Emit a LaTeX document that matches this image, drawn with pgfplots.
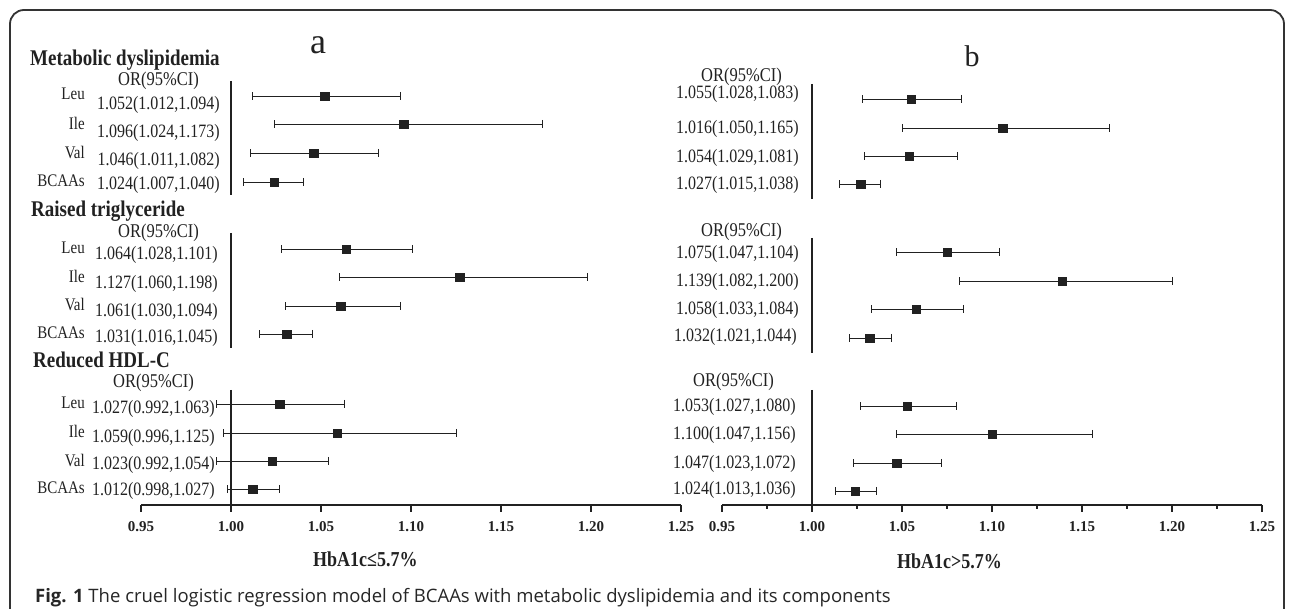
\documentclass[border=0pt]{standalone}
\usepackage{fontspec}
\setmainfont{Liberation Serif}
\newfontfamily\capfont{Open Sans}
\usepackage{pgfplots}
\pgfplotsset{compat=1.18}
\usepackage{pgfplotstable}

% left panel: HbA1c <= 5.7%   (y = vertical position of the row)
\pgfplotstableread{
or    lo    hi    y
1.052 1.012 1.094 513
1.096 1.024 1.173 485
1.046 1.011 1.082 456
1.024 1.007 1.040 427
1.064 1.028 1.101 360
1.127 1.060 1.198 332
1.061 1.030 1.094 303
1.031 1.016 1.045 275
1.027 0.992 1.063 205
1.059 0.996 1.125 176
1.023 0.992 1.054 148
1.012 0.998 1.027 120
}\leftdata
% right panel: HbA1c > 5.7%
\pgfplotstableread{
or    lo    hi    y
1.055 1.028 1.083 510
1.106 1.050 1.165 481
1.054 1.029 1.081 453
1.027 1.015 1.038 425
1.075 1.047 1.104 357
1.139 1.082 1.200 328
1.058 1.033 1.084 300
1.032 1.021 1.044 271
1.053 1.027 1.080 203
1.100 1.047 1.156 175
1.047 1.023 1.072 146
1.024 1.013 1.036 118
}\rightdata

\colorlet{ink}{black!87}
\pgfplotsset{forest/.style={
  scale only axis, width=540pt, height=465pt,
  xmin=0.95, xmax=1.25, ymin=104, ymax=569,
  axis x line=bottom, axis y line=none,
  x axis line style={-, line width=1.3pt, color=ink},
  xtick={0.95,1.00,1.05,1.10,1.15,1.20,1.25},
  xticklabels={0.95,1.00,1.05,1.10,1.15,1.20,1.25},
  tick align=outside, major tick length=7pt, minor tick length=4pt,
  every tick/.style={line width=1.2pt, ink},
  xticklabel style={font=\bfseries\fontsize{15}{17}\selectfont, text=ink, yshift=-6pt},
  /pgf/number format/assume math mode=true,
  clip=false, anchor=south west,
}}
\pgfplotsset{ciplot/.style={only marks, mark=square*, mark size=4.2pt, color=ink,
  error bars/.cd, x dir=both, x explicit, error mark=|,
  error bar style={line width=0.9pt, color=ink},
  error mark options={mark size=4pt, line width=0.9pt, color=ink}}}
\pgfplotsset{refline/.style={line width=1.3pt, ink, mark=none}}

\newcommand\st[1]{\scalebox{1}[1.18]{#1}}
\newcommand\numf{\fontsize{16}{18}\selectfont}
\newcommand\labf{\fontsize{15}{17}\selectfont}
\newcommand\orf{\fontsize{16.5}{18}\selectfont}
\newcommand\ttlf{\bfseries\fontsize{19}{22}\selectfont}

\begin{document}
\begin{tikzpicture}[x=1pt,y=1pt]
\path[use as bounding box] (0,0) rectangle (1292,609);

\begin{axis}[forest, at={(141pt,104pt)}]
\addplot[ciplot] table[x=or, y=y,
  x error plus expr=\thisrow{hi}-\thisrow{or},
  x error minus expr=\thisrow{or}-\thisrow{lo}] {\leftdata};
\addplot[refline] coordinates {(1,528) (1,414)};
\addplot[refline] coordinates {(1,376) (1,261)};
\addplot[refline] coordinates {(1,219) (1,104)};
\end{axis}

\begin{axis}[forest, at={(722pt,104pt)},
  minor xtick={0.975,1.025,1.075,1.125,1.175,1.225}]
\addplot[ciplot] table[x=or, y=y,
  x error plus expr=\thisrow{hi}-\thisrow{or},
  x error minus expr=\thisrow{or}-\thisrow{lo}] {\rightdata};
\addplot[refline] coordinates {(1,525) (1,410)};
\addplot[refline] coordinates {(1,371) (1,256)};
\addplot[refline] coordinates {(1,219) (1,104)};
\end{axis}

\begin{scope}[yshift=609pt, y=-1pt, x=1pt, every node/.style={inner sep=0pt, text=ink}]
% frame
\draw[line width=1.8pt, black!80, rounded corners=14pt] (10,612) -- (10,10) -- (1284,10) -- (1284,612);
% panel letters
\node[anchor=base, font=\fontsize{36}{40}\selectfont] at (318,54) {a};
\node[anchor=base, font=\fontsize{30}{34}\selectfont] at (972,67) {b};
% section titles
\node[anchor=base west, font=\ttlf] at (30,66) {\st{Metabolic dyslipidemia}};
\node[anchor=base west, font=\ttlf] at (31,217) {\st{Raised triglyceride}};
\node[anchor=base west, font=\ttlf] at (33,368) {\st{Reduced HDL-C}};
% OR headers
\node[anchor=base east, font=\orf] at (199,86) {\st{OR(95\%CI)}};
\node[anchor=base east, font=\orf] at (199,238) {\st{OR(95\%CI)}};
\node[anchor=base east, font=\orf] at (194,387.5) {\st{OR(95\%CI)}};
\node[anchor=base east, font=\orf] at (782,81.5) {\st{OR(95\%CI)}};
\node[anchor=base east, font=\orf] at (782,237) {\st{OR(95\%CI)}};
\node[anchor=base east, font=\orf] at (774,387) {\st{OR(95\%CI)}};
% row labels (left)
\foreach \t/\yy in {Leu/95,Ile/125,Val/154,BCAAs/182,Leu/249,Ile/278,Val/306,BCAAs/334,Leu/404,Ile/433,Val/462,BCAAs/489}
  \node[anchor=base east, font=\labf] at (85,\yy+5) {\st{\t}};
% numbers left
\node[anchor=base east, font=\numf] at (220,109.5) {\st{1.052(1.012,1.094)}};
\node[anchor=base east, font=\numf] at (220,137.5) {\st{1.096(1.024,1.173)}};
\node[anchor=base east, font=\numf] at (220,165.5) {\st{1.046(1.011,1.082)}};
\node[anchor=base east, font=\numf] at (220,189.5) {\st{1.024(1.007,1.040)}};
\node[anchor=base east, font=\numf] at (218,259.5) {\st{1.064(1.028,1.101)}};
\node[anchor=base east, font=\numf] at (218,288.5) {\st{1.127(1.060,1.198)}};
\node[anchor=base east, font=\numf] at (218,316.5) {\st{1.061(1.030,1.094)}};
\node[anchor=base east, font=\numf] at (218,342.5) {\st{1.031(1.016,1.045)}};
\node[anchor=base east, font=\numf] at (215,413.5) {\st{1.027(0.992,1.063)}};
\node[anchor=base east, font=\numf] at (215,442.5) {\st{1.059(0.996,1.125)}};
\node[anchor=base east, font=\numf] at (215,469.5) {\st{1.023(0.992,1.054)}};
\node[anchor=base east, font=\numf] at (215,495.5) {\st{1.012(0.998,1.027)}};
% numbers right
\node[anchor=base east, font=\numf] at (799,99) {\st{1.055(1.028,1.083)}};
\node[anchor=base east, font=\numf] at (799,133.5) {\st{1.016(1.050,1.165)}};
\node[anchor=base east, font=\numf] at (799,162.5) {\st{1.054(1.029,1.081)}};
\node[anchor=base east, font=\numf] at (799,189.5) {\st{1.027(1.015,1.038)}};
\node[anchor=base east, font=\numf] at (799,258.5) {\st{1.075(1.047,1.104)}};
\node[anchor=base east, font=\numf] at (799,286.5) {\st{1.139(1.082,1.200)}};
\node[anchor=base east, font=\numf] at (799,314.5) {\st{1.058(1.033,1.084)}};
\node[anchor=base east, font=\numf] at (797,341.5) {\st{1.032(1.021,1.044)}};
\node[anchor=base east, font=\numf] at (796,411.5) {\st{1.053(1.027,1.080)}};
\node[anchor=base east, font=\numf] at (796,439.5) {\st{1.100(1.047,1.156)}};
\node[anchor=base east, font=\numf] at (796,468.5) {\st{1.047(1.023,1.072)}};
\node[anchor=base east, font=\numf] at (796,494.5) {\st{1.024(1.013,1.036)}};
% axis titles
\node[anchor=base west, font=\bfseries\fontsize{18}{20}\selectfont] at (313,567) {\st{HbA1c≤5.7\%}};
\node[anchor=base west, font=\bfseries\fontsize{18}{20}\selectfont] at (897,569) {\st{HbA1c>5.7\%}};
% caption
\node[anchor=base west, font=\capfont\fontsize{18.5}{22}\selectfont, text=black!85] at (35,603)
  {\textbf{Fig. 1} The cruel logistic regression model of BCAAs with metabolic dyslipidemia and its components};
\end{scope}
\end{tikzpicture}
\end{document}
